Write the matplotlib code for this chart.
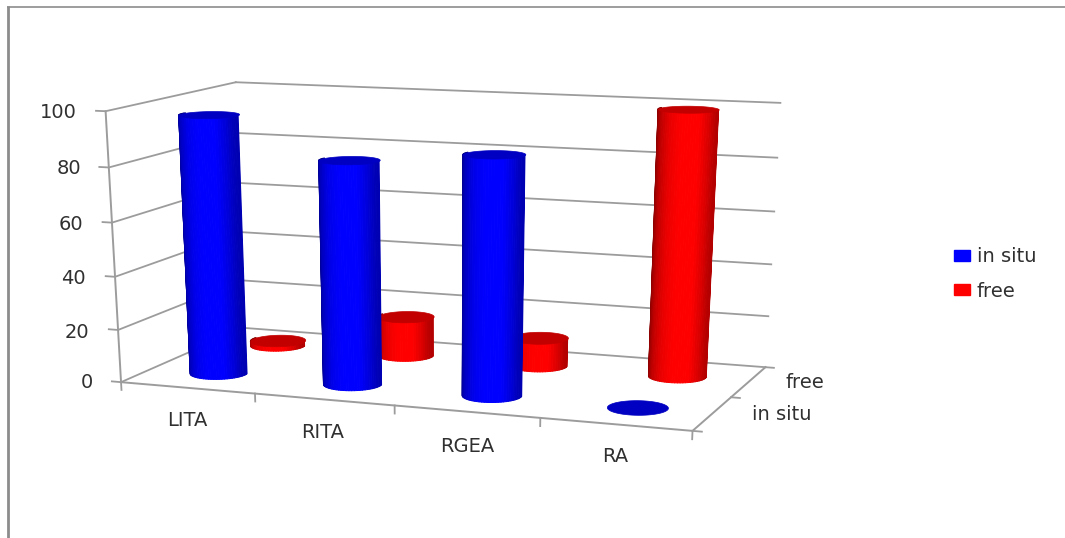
#!/usr/bin/env python3
"""3-D cylinder chart of patency by graft type, in situ versus free."""

import matplotlib
matplotlib.use("Agg")
import matplotlib.pyplot as plt
import numpy as np
from matplotlib.lines import Line2D
from matplotlib.patches import Patch
from mpl_toolkits.mplot3d.art3d import Poly3DCollection

categories = ["LITA", "RITA", "RGEA", "RA"]
series_names = ["in situ", "free"]
in_situ = [97, 83, 87.5, 0]
free = [2, 15.5, 11, 99.5]
y_ticks = [0, 20, 40, 60, 80, 100]

W, H = 1065, 538
GRID = "#9c9c9c"
TEXT = "#303030"
RADIUS_X = 0.197
RADIUS_Y = 0.21

plt.rcParams["font.family"] = "DejaVu Sans"

# camera calibration: (x, y, z) of box landmarks -> pixel position
CAL_3D = np.array([
    (0, 0, 0), (1, 0, 0), (2, 0, 0), (3, 0, 0), (4, 0, 0),
    (4, 2, 0), (0, 2, 0), (0, 2, 100), (4, 2, 100), (0, 0, 100),
    (4, 2, 20), (4, 2, 40), (4, 2, 60), (4, 2, 80),
    (0, 0, 20), (0, 0, 40), (0, 0, 60), (0, 0, 80),
], dtype=float)
CAL_PX = np.array([
    (120, 383), (255, 393), (394, 405), (540, 418), (693, 431),
    (765, 367), (245, 328), (235, 82), (780, 103), (105, 111),
    (768, 316), (772, 264), (775, 212), (777, 158),
    (118, 330), (116, 277), (112, 223), (110, 167),
], dtype=float)


def fit_projection(ax):
    """Least-squares 4x4 projection from data space to 2-D axes coordinates."""
    ax.apply_aspect()
    disp = np.column_stack([CAL_PX[:, 0], H - CAL_PX[:, 1]])
    uv = ax.transData.inverted().transform(disp)
    rows, rhs = [], []
    for (x, y, z), (u, v) in zip(CAL_3D, uv):
        rows.append([x, y, z, 1, 0, 0, 0, 0, -u * x, -u * y, -u * z])
        rows.append([0, 0, 0, 0, x, y, z, 1, -v * x, -v * y, -v * z])
        rhs += [u, v]
    p = np.linalg.lstsq(np.array(rows), np.array(rhs), rcond=None)[0]
    row_u, row_v = p[:4], p[4:8]
    row_w = np.append(p[8:], 1.0)
    # depth grows away from the viewer so far polygons get painted first
    row_d = row_w - np.array([0, 0, 0, 1.0])
    return np.array([row_u, row_v, row_d, row_w])


def brightness(u):
    return np.interp(u, [-1, -0.7, -0.3, 0.1, 0.6, 0.85, 1],
                     [0.5, 0.75, 0.92, 1.0, 1.0, 0.85, 0.7])


def cylinder(ax, x, y, height, channel, zorder):
    """Shaded front wall plus a darker top cap."""
    theta = np.linspace(0, 2 * np.pi, 145)
    cap_xy = np.column_stack([x + RADIUS_X * np.cos(theta), y + RADIUS_Y * np.sin(theta)])
    cap = np.zeros(3)
    cap[channel] = 0.76
    if height > 0:
        # only the half facing the viewer, a little past each silhouette
        front = np.linspace(np.pi - 0.2, 2 * np.pi + 0.2, 39)
        xs = x + RADIUS_X * np.cos(front)
        ys = y + RADIUS_Y * np.sin(front)
        X = np.vstack([xs, xs])
        Y = np.vstack([ys, ys])
        Z = np.vstack([np.zeros_like(xs), np.full_like(xs, height)])
        mid = 0.5 * (front[:-1] + front[1:])
        colors = np.zeros((1, len(mid), 4))
        colors[..., channel] = brightness(np.cos(mid))
        colors[..., 3] = 1
        ax.plot_surface(X, Y, Z, facecolors=colors, rstride=1, cstride=1,
                        shade=False, linewidth=0.7, zorder=zorder)
    top = np.column_stack([cap_xy, np.full(len(theta), height)])
    ax.add_collection3d(Poly3DCollection([top], facecolor=cap, edgecolor=cap,
                                         linewidth=0.5, zorder=zorder + 0.1))


def main():
    fig = plt.figure(figsize=(W / 100, H / 100), dpi=100)
    # square axes spanning the figure width, centred vertically
    ax = fig.add_axes([0, 0.5 - W / H / 2, 1, W / H], projection="3d")
    ax.set_axis_off()
    ax.set_autoscale_on(False)
    ax.patch.set_visible(False)
    ax.computed_zorder = False
    # orthographic mode switches off the near-plane clipping of line points
    ax.set_proj_type("ortho")
    proj = fit_projection(ax)
    ax.get_proj = lambda: proj

    # walls: horizontal grid on the left and back, floor outline, axis lines
    for z in y_ticks:
        ax.plot([-0.07, 0, 0], [0, 0, 2], [z, z, z], color=GRID, lw=1.3, zorder=1)
        ax.plot([0, 4], [2, 2], [z, z], color=GRID, lw=1.3, zorder=1)
    ax.plot([0, 0], [0, 0], [0, 100], color=GRID, lw=1.4, zorder=1)
    ax.plot([0, 4, 4], [0, 0, 2], [0, 0, 0], color=GRID, lw=1.4, zorder=1)
    for i in range(5):
        ax.plot([i, i], [0, 0], [0, -3], color=GRID, lw=1.3, zorder=1)
    for j in range(3):
        ax.plot([4, 4.06], [j, j], [0, 0], color=GRID, lw=1.3, zorder=1)

    for i, value in enumerate(free):
        cylinder(ax, i + 0.5, 1.5, value, 0, 2 + i * 0.01)
    for i, value in enumerate(in_situ):
        cylinder(ax, i + 0.5, 0.5, value, 2, 3 + i * 0.01)

    # tick and category text sits at fixed pixel spots around the box
    def label(px, py, s, ha="center"):
        fig.text(px / W, 1 - py / H, s, ha=ha, va="center", fontsize=14, color=TEXT)

    tick_right = [93, 89, 86, 83, 81, 77]
    tick_y = [383, 332, 278, 224, 168, 112]
    for z, px, py in zip(y_ticks, tick_right, tick_y):
        label(px, py, str(z), ha="right")
    for name, px, py in zip(categories, [187, 323, 467, 615], [421, 432, 446, 456]):
        label(px, py, name)
    label(782, 415, series_names[0])
    label(805, 383, series_names[1])

    handles = [Patch(color="#0000ff", label=series_names[0]),
               Patch(color="#ff0000", label=series_names[1])]
    fig.legend(handles=handles, loc="center left", bbox_to_anchor=(954 / W, 1 - 274 / H),
               frameon=False, fontsize=14, labelcolor=TEXT, handlelength=0.82,
               handleheight=0.5, handletextpad=0.36, labelspacing=0.78,
               borderpad=0, borderaxespad=0)

    # outer frame: only the top and left edges fall inside the image
    fig.add_artist(Line2D([7.5 / W, 7.5 / W], [0, 1 - 6 / H], transform=fig.transFigure,
                          color="#8c8c8c", lw=2.0, solid_capstyle="butt"))
    fig.add_artist(Line2D([6.5 / W, 1], [1 - 7 / H, 1 - 7 / H], transform=fig.transFigure,
                          color="#8c8c8c", lw=1.2, solid_capstyle="butt"))

    fig.savefig("out.png", dpi=100)


if __name__ == "__main__":
    main()
